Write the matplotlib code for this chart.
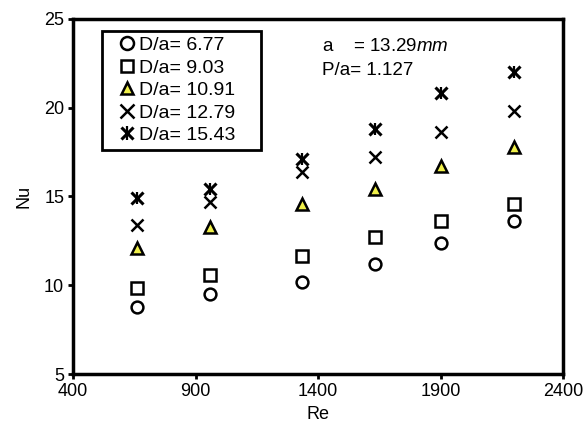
import matplotlib
matplotlib.use("Agg")
import matplotlib.pyplot as plt
from matplotlib.legend_handler import HandlerTuple

plt.rcParams['font.family'] = ['Liberation Sans', 'DejaVu Sans']
plt.rcParams['mathtext.fontset'] = 'custom'
plt.rcParams['mathtext.rm'] = 'Liberation Sans'
plt.rcParams['mathtext.it'] = 'Liberation Sans:italic'

# --- data ---
re_vals = [662, 957, 1335, 1633, 1902, 2198]
nu_677 = [8.75, 9.5, 10.2, 11.2, 12.4, 13.6]
nu_903 = [9.85, 10.6, 11.65, 12.7, 13.6, 14.6]
nu_1091 = [12.1, 13.3, 14.6, 15.4, 16.7, 17.8]
nu_1279 = [13.4, 14.7, 16.4, 17.2, 18.6, 19.8]
nu_1543 = [14.9, 15.4, 17.1, 18.8, 20.8, 22.0]
labels = ["D/a= 6.77", "D/a= 9.03", "D/a= 10.91", "D/a= 12.79", "D/a= 15.43"]

fig = plt.figure(figsize=(5.86, 4.36), dpi=100)
ax = fig.add_axes([0.125, 0.142, 0.836, 0.815])

h1, = ax.plot(re_vals, nu_677, 'o', ms=8.5, mfc='white', mec='black', mew=1.8, ls='none')
h2, = ax.plot(re_vals, nu_903, 's', ms=8.5, mfc='white', mec='black', mew=1.8, ls='none')
h3, = ax.plot(re_vals, nu_1091, '^', ms=8.5, mfc='#f0f04a', mec='black', mew=1.8, ls='none')
h4, = ax.plot(re_vals, nu_1279, 'x', ms=9, mec='black', mew=1.8, ls='none')
h5a, = ax.plot(re_vals, nu_1543, 'x', ms=8, mec='black', mew=2.2, ls='none')
h5b, = ax.plot(re_vals, nu_1543, '|', ms=9, mec='black', mew=1.6, ls='none')

# legend box spans a fixed region; expand mode leaves the slack on the right
leg = ax.legend([h1, h2, h3, h4, (h5a, h5b)], labels,
                handler_map={tuple: HandlerTuple(ndivide=1, pad=0)},
                loc='upper left', bbox_to_anchor=(0.059, 0.634, 0.325, 0.332),
                mode='expand', borderaxespad=0, markerscale=1.1,
                fontsize=14, handlelength=2.0, handletextpad=-0.4,
                labelspacing=0.25, borderpad=0.3,
                fancybox=False, edgecolor='black', framealpha=1)
leg.get_frame().set_linewidth(2)

ax.text(0.508, 0.908, "a    = 13.29$\\it{mm}$", transform=ax.transAxes, fontsize=13.5)
ax.text(0.508, 0.843, "P/a= 1.127", transform=ax.transAxes, fontsize=13.5)

ax.set_xlim(400, 2400)
ax.set_ylim(5, 25)
ax.set_xticks([400, 900, 1400, 1900, 2400])
ax.set_yticks([5, 10, 15, 20, 25])
ax.set_xlabel("Re", fontsize=13, labelpad=4)
ax.set_ylabel("Nu", fontsize=13, labelpad=8)
ax.tick_params(labelsize=13, direction='out', length=3.5, width=2, pad=3)
for s in ax.spines.values():
    s.set_linewidth(2.5)

fig.savefig("out.png", dpi=100)
